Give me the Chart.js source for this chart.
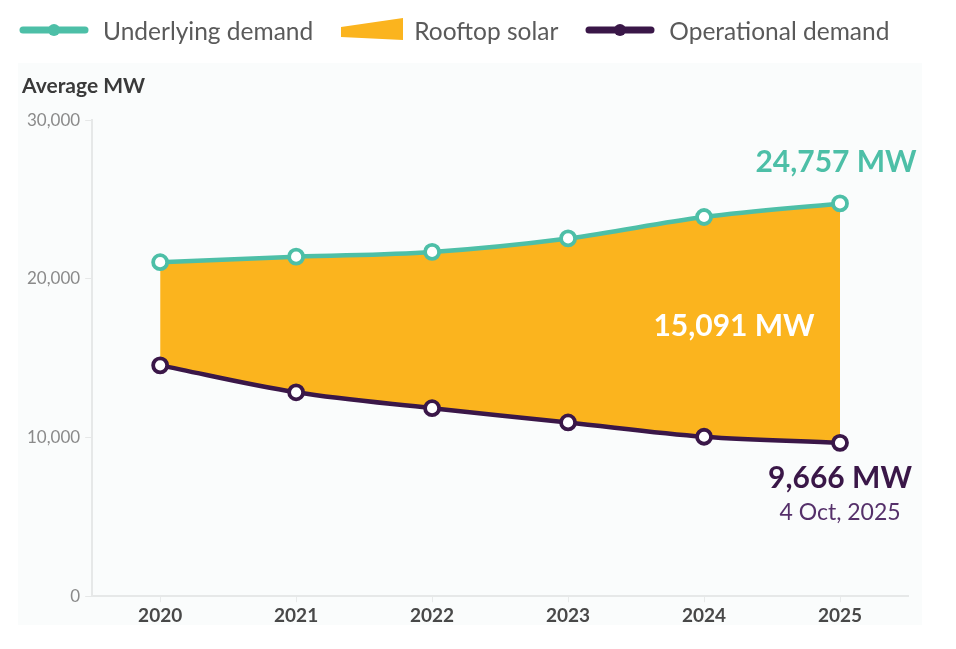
<!DOCTYPE html>
<html>
<head>
<meta charset="utf-8">
<script src="https://cdn.jsdelivr.net/npm/chart.js@4.4.1/dist/chart.umd.min.js"></script>
<style>
  html, body { margin: 0; padding: 0; background: #ffffff; }
  #wrap { width: 956px; height: 649px; position: relative; }
  #legend {
    position: absolute; left: 19px; top: 14px; height: 32px;
    display: flex; align-items: center;
    font-family: Lato, "Open Sans", sans-serif; font-size: 24.5px; color: #5a5a5a;
  }
  #legend .item { display: flex; align-items: center; margin-right: 27px; cursor: pointer; }
  #legend svg { margin-right: 14px; }
</style>
</head>
<body>
<div id="wrap">
  <div id="legend"></div>
  <canvas id="chart"></canvas>
</div>
<script>
const years = ["2020", "2021", "2022", "2023", "2024", "2025"];
const underlying = [21050, 21400, 21700, 22550, 23900, 24757];
const operational = [14550, 12850, 11850, 10950, 10050, 9666];
const yTicks = [0, 10000, 20000, 30000];
const seriesNames = ["Underlying demand", "Rooftop solar", "Operational demand"];
const lastDate = "4 Oct, 2025";

const TEAL = "#4dbfa7";
const YELLOW = "#fbb41e";
const PURPLE = "#3a1748";
const FONT = "Lato, 'Open Sans', sans-serif";

const fmt = v => v.toLocaleString("en-US");

// plot background + value labels
const extras = {
  id: "extras",
  beforeDraw(chart) {
    const { ctx } = chart;
    ctx.save();
    ctx.fillStyle = "#fafcfc";
    ctx.fillRect(18, 63, 904, 562);
    ctx.restore();
  },
  afterDatasetsDraw(chart) {
    const { ctx, scales } = chart;
    const i = years.length - 1;
    const x = scales.x.getPixelForValue(i);
    const yTop = scales.y.getPixelForValue(underlying[i]);
    const yBot = scales.y.getPixelForValue(operational[i]);
    ctx.save();
    ctx.textAlign = "center";
    ctx.textBaseline = "middle";
    ctx.font = "bold 30px " + FONT;
    ctx.fillStyle = TEAL;
    ctx.fillText(fmt(underlying[i]) + " MW", x - 4, yTop - 41);
    ctx.fillStyle = "#ffffff";
    ctx.fillText(fmt(underlying[i] - operational[i]) + " MW", x - 106, (yTop + yBot) / 2 + 3);
    ctx.fillStyle = PURPLE;
    ctx.fillText(fmt(operational[i]) + " MW", x, yBot + 35);
    ctx.font = "23px " + FONT;
    ctx.fillStyle = "#55306a";
    ctx.fillText(lastDate, x, yBot + 70);
    ctx.restore();
  }
};

const pointOpts = color => ({
  borderColor: color,
  backgroundColor: color,
  pointBackgroundColor: "#ffffff",
  pointBorderColor: color,
  pointBorderWidth: 3.8,
  pointRadius: 7,
  pointHoverRadius: 7,
  borderWidth: 4.5,
  tension: 0.35,
  fill: false
});

const chart = new Chart(document.getElementById("chart"), {
  type: "line",
  data: {
    labels: years,
    datasets: [
      { label: seriesNames[0], data: underlying, ...pointOpts(TEAL), order: 1 },
      {
        label: seriesNames[1], data: underlying, order: 3,
        borderWidth: 0, pointRadius: 0, pointHoverRadius: 0,
        tension: 0.35, backgroundColor: YELLOW, borderColor: YELLOW,
        fill: { target: 2 }
      },
      { label: seriesNames[2], data: operational, ...pointOpts(PURPLE), order: 2 }
    ]
  },
  options: {
    responsive: true,
    maintainAspectRatio: false,
    animation: false,
    layout: { padding: { left: 22, right: 48, top: 60, bottom: 20 } },
    plugins: {
      legend: { display: false },
      title: {
        display: true,
        text: "Average MW",
        align: "start",
        color: "#3a3a3a",
        font: { family: FONT, size: 21, weight: "bold" },
        padding: { top: 14, bottom: 21 }
      },
      tooltip: { enabled: false }
    },
    scales: {
      x: {
        offset: true,
        grid: { drawOnChartArea: false, drawTicks: true, tickLength: 6, color: "#e8eaea" },
        border: { display: true, color: "#e6e8e8", width: 2 },
        ticks: { color: "#484848", font: { family: FONT, size: 19, weight: "bold" }, padding: 2 }
      },
      y: {
        min: 0,
        max: 30000,
        afterBuildTicks: axis => { axis.ticks = yTicks.map(v => ({ value: v })); },
        grid: { drawOnChartArea: false, drawTicks: true, tickLength: 7, color: "#e6e8e8" },
        border: { display: true, color: "#e6e8e8", width: 2 },
        ticks: { color: "#8a8a8a", font: { family: FONT, size: 17 }, padding: 5, callback: v => fmt(v) }
      }
    }
  },
  plugins: [extras]
});

// HTML legend with the original symbols
const symbols = [
  `<svg width="70" height="16"><line x1="4" y1="8" x2="66" y2="8" stroke="${TEAL}" stroke-width="7" stroke-linecap="round"/><circle cx="35" cy="8" r="6" fill="${TEAL}"/></svg>`,
  `<svg width="64" height="26"><polygon points="1,10 63,1 63,23 1,20" fill="${YELLOW}"/></svg>`,
  `<svg width="70" height="16"><line x1="4" y1="8" x2="66" y2="8" stroke="${PURPLE}" stroke-width="7" stroke-linecap="round"/><circle cx="35" cy="8" r="6" fill="${PURPLE}"/></svg>`
];
const legendEl = document.getElementById("legend");
seriesNames.forEach((name, i) => {
  const item = document.createElement("div");
  item.className = "item";
  item.innerHTML = symbols[i] + "<span>" + name + "</span>";
  if (i === 1) item.querySelector("svg").style.marginRight = "10px";
  item.onclick = () => {
    chart.setDatasetVisibility(i, !chart.isDatasetVisible(i));
    item.style.opacity = chart.isDatasetVisible(i) ? 1 : 0.4;
    chart.update();
  };
  legendEl.appendChild(item);
});
</script>
</body>
</html>
